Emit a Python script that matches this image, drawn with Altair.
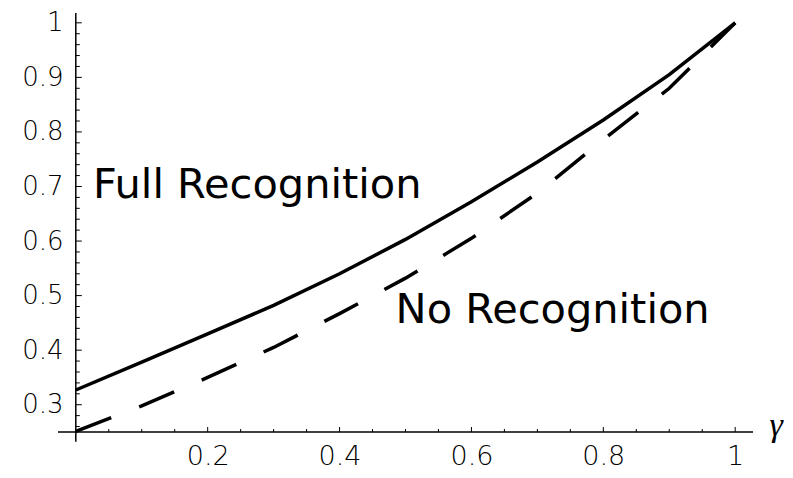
import altair as alt
import pandas as pd

# ---- data ----
gamma_full = [0.0, 0.1, 0.2, 0.3, 0.4, 0.5, 0.6, 0.7, 0.8, 0.9, 1.0]
full_recognition = [0.327, 0.378, 0.430, 0.482, 0.540, 0.603, 0.672, 0.745, 0.822, 0.905, 1.0]

gamma_none = [0.0, 0.1, 0.2, 0.3, 0.4, 0.5, 0.6, 0.7, 0.8, 0.9, 1.0]
no_recognition = [0.251, 0.298, 0.350, 0.405, 0.467, 0.532, 0.605, 0.688, 0.786, 0.880, 1.0]

x_tick_labels = [0.2, 0.4, 0.6, 0.8, 1.0]
y_tick_labels = [0.3, 0.4, 0.5, 0.6, 0.7, 0.8, 0.9, 1.0]
x_minor = [0.05, 0.1, 0.15, 0.25, 0.3, 0.35, 0.45, 0.5, 0.55, 0.65, 0.7, 0.75,
           0.85, 0.9, 0.95]
y_minor = [0.26, 0.28, 0.32, 0.34, 0.36, 0.38, 0.42, 0.44, 0.46, 0.48, 0.52, 0.54,
           0.56, 0.58, 0.62, 0.64, 0.66, 0.68, 0.72, 0.74, 0.76, 0.78, 0.82, 0.84,
           0.86, 0.88, 0.92, 0.94, 0.96, 0.98]

annotations = ["Full Recognition", "No Recognition"]
axis_label_x = "γ"

# ---- layout constants ----
X_LO, X_HI = -0.027, 1.027
Y_LO, Y_HI = 0.25, 1.018
Y_AXIS_BOTTOM = 0.232
W, H = 695, 419

xs = alt.Scale(domain=[X_LO, X_HI], nice=False, zero=False)
ys = alt.Scale(domain=[Y_LO, Y_HI], nice=False, zero=False)

LABEL_FONT = "DejaVu Sans"
xax = alt.Axis(values=x_tick_labels, format="~g", title=None, grid=False,
               domain=False, ticks=False, tickSize=0, offset=0,
               labelPadding=11, labelFont=LABEL_FONT, labelFontSize=27,
               labelFontWeight=200,
               labelColor="black", labelFlush=False, labelOverlap=False)
yax = alt.Axis(values=y_tick_labels, format="~g", title=None, grid=False,
               domain=False, ticks=False, tickSize=0, offset=-18,
               labelPadding=13, labelFont=LABEL_FONT, labelFontSize=26,
               labelFontWeight=200,
               labelColor="black", labelFlush=False, labelOverlap=False)

full_df = pd.DataFrame({"g": gamma_full, "v": full_recognition})
none_df = pd.DataFrame({"g": gamma_none, "v": no_recognition})

solid = alt.Chart(full_df).mark_line(color="black", strokeWidth=3.5).encode(
    x=alt.X("g:Q", scale=xs, axis=xax),
    y=alt.Y("v:Q", scale=ys, axis=yax),
)
dashed = alt.Chart(none_df).mark_line(color="black", strokeWidth=3.5,
                                      strokeDash=[38, 30]).encode(
    x=alt.X("g:Q", scale=xs, axis=xax),
    y=alt.Y("v:Q", scale=ys, axis=yax),
)

one = pd.DataFrame({"k": [0]})
x_axis_line = alt.Chart(one).mark_rule(color="black", strokeWidth=1.5).encode(
    x=alt.XDatum(X_LO, scale=xs, axis=xax), x2=alt.X2Datum(X_HI),
    y=alt.YDatum(Y_LO, scale=ys, axis=yax),
)
y_axis_line = alt.Chart(one).mark_rule(color="black", strokeWidth=1.5).encode(
    x=alt.XDatum(0, scale=xs, axis=xax),
    y=alt.YDatum(Y_AXIS_BOTTOM, scale=ys, axis=yax), y2=alt.Y2Datum(Y_HI),
)

PX_X = (X_HI - X_LO) / W
PX_Y = (Y_HI - Y_LO) / H

def xticks(vals, length):
    df = pd.DataFrame({"t": vals})
    return alt.Chart(df).mark_rule(color="black", strokeWidth=1).encode(
        x=alt.X("t:Q", scale=xs, axis=xax),
        y=alt.YDatum(Y_LO, scale=ys, axis=yax),
        y2=alt.Y2Datum(Y_LO + length * PX_Y),
    )

def yticks(vals, length):
    df = pd.DataFrame({"t": vals})
    return alt.Chart(df).mark_rule(color="black", strokeWidth=1).encode(
        y=alt.Y("t:Q", scale=ys, axis=yax),
        x=alt.XDatum(0, scale=xs, axis=xax),
        x2=alt.X2Datum(length * PX_X),
    )

texts = alt.Chart(pd.DataFrame({"t": annotations, "x": [0.026, 0.485],
                                "y": [0.679, 0.450]})).mark_text(
    align="left", baseline="alphabetic", font="DejaVu Sans", fontSize=41.5,
    color="black").encode(
    x=alt.X("x:Q", scale=xs, axis=xax),
    y=alt.Y("y:Q", scale=ys, axis=yax),
    text="t:N",
)

gamma_txt = alt.Chart(pd.DataFrame({"t": [axis_label_x]})).mark_text(
    align="center", baseline="alphabetic", font="Liberation Serif",
    fontStyle="italic", fontSize=34, color="black").encode(
    x=alt.XDatum(1.062, scale=xs, axis=xax),
    y=alt.YDatum(0.242, scale=ys, axis=yax),
    text="t:N",
)

chart = alt.layer(
    x_axis_line, y_axis_line,
    xticks(x_tick_labels, 5), xticks(x_minor, 3),
    yticks(y_tick_labels, 6), yticks(y_minor, 4),
    solid, dashed, texts, gamma_txt,
).properties(
    width=W, height=H,
    padding={"left": 50, "top": 5, "right": 32, "bottom": 38},
    autosize=alt.AutoSizeParams(type="none"),
    background="white",
).configure_view(stroke=None)

chart.save("out.html", embed_options={"renderer": "svg", "actions": False})
